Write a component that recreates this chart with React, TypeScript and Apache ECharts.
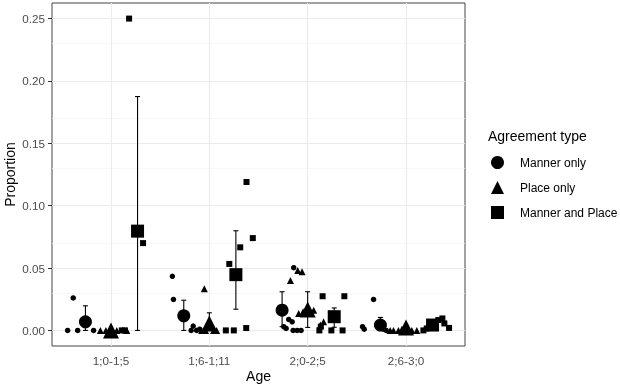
import React, { useEffect, useRef } from "react";
import * as echarts from "echarts";

const ageGroups = ["1;0-1;5", "1;6-1;11", "2;0-2;5", "2;6-3;0"];
const typeNames = ["Manner only", "Place only", "Manner and Place"];
const yTicks = [0, 0.05, 0.1, 0.15, 0.2, 0.25];
const yMinorTicks = [0.025, 0.075, 0.125, 0.175, 0.225];

// individual (jittered) observations: x in category units, y proportion
const mannerPtsX = [0.559, 0.616, 0.661, 0.823, 1.624, 1.635, 1.815, 1.836, 1.871, 1.901, 2.858, 2.807, 2.842, 2.757, 2.781, 2.852, 2.893, 2.933, 3.67, 3.558, 3.575, 3.771, 3.799];
const mannerPtsY = [0, 0.026, 0, 0, 0.0434, 0.0248, 0, 0.0035, 0, 0.001, 0.0503, 0.0088, 0.0069, 0.003, 0.0016, 0, 0, 0, 0.0248, 0.003, 0.001, 0.001, 0];
const placePtsX = [0.892, 0.948, 1.059, 1.161, 1.949, 1.922, 1.962, 2.043, 2.074, 2.825, 2.899, 2.943, 2.909, 2.953, 3.061, 3.162, 3.129, 3.839, 3.873, 3.923, 3.958, 4.059, 4.11];
const placePtsY = [0, 0, 0, 0, 0.0335, 0, 0, 0, 0, 0.04, 0.048, 0.047, 0.0136, 0.015, 0.0162, 0.007, 0.0043, 0, 0, 0, 0.001, 0, 0];
const bothPtsX = [1.184, 1.326, 1.11, 1.141, 2.378, 2.442, 2.314, 2.203, 2.168, 2.249, 2.375, 3.152, 3.373, 3.119, 3.134, 3.241, 3.355, 4.177, 4.211, 4.329, 4.37, 4.39, 4.438];
const bothPtsY = [0.25, 0.07, 0, 0, 0.119, 0.074, 0.0666, 0.0533, 0, 0, 0.0019, 0.0274, 0.0274, 0, 0.003, 0, 0, 0, 0.0016, 0.0083, 0.0096, 0.0056, 0.002];

// group means with error bar bounds
const mannerMean = [0.0069, 0.0117, 0.0162, 0.0043];
const mannerLow = [0, 0, 0.003, 0];
const mannerHigh = [0.0197, 0.0242, 0.031, 0.0104];
const placeMean = [0, 0.0056, 0.0167, 0.0024];
const placeLow = [0, 0, 0.0024, 0];
const placeHigh = [0, 0.0141, 0.031, 0.004];
const bothMean = [0.0796, 0.0447, 0.011, 0.0043];
const bothLow = [0, 0.017, 0.0025, 0.001];
const bothHigh = [0.1875, 0.0799, 0.018, 0.008];

const dodge = [-0.26, 0, 0.27];
const FONT = "'Liberation Sans', Arial, Helvetica, sans-serif";

export default function App() {
  const ref = useRef<HTMLDivElement>(null);
  useEffect(() => {
    if (!ref.current) return;
    const chart = echarts.init(ref.current, undefined, { renderer: "svg" });

    const pts = (xs: number[], ys: number[]) => xs.map((x, i) => [x, ys[i]]);
    const means = (m: number[], k: number) => m.map((v, i) => [i + 1 + dodge[k], v]);
    const bars = (lo: number[], hi: number[], k: number) =>
      lo.map((l, i) => [i + 1 + dodge[k], l, hi[i]]);

    const symbols = ["circle", "triangle", "rect"];
    const smallSizes = [5.5, 7, 6];
    const bigSizes = [13, 16, 13];
    const ptsData = [pts(mannerPtsX, mannerPtsY), pts(placePtsX, placePtsY), pts(bothPtsX, bothPtsY)];
    const meanData = [means(mannerMean, 0), means(placeMean, 1), means(bothMean, 2)];
    const barData = [bars(mannerLow, mannerHigh, 0), bars(placeLow, placeHigh, 1), bars(bothLow, bothHigh, 2)];

    const gridLines: any[] = [];
    yTicks.forEach((v) => gridLines.push({ yAxis: v, lineStyle: { color: "#ebebeb", width: 1.1, type: "solid" } }));
    yMinorTicks.forEach((v) => gridLines.push({ yAxis: v, lineStyle: { color: "#f3f3f3", width: 0.7, type: "solid" } }));
    ageGroups.forEach((_, i) => gridLines.push({ xAxis: i + 1, lineStyle: { color: "#ebebeb", width: 1.1, type: "solid" } }));

    const series: any[] = [
      {
        name: "grid",
        type: "scatter",
        data: [],
        silent: true,
        z: 1,
        markLine: {
          silent: true,
          symbol: "none",
          z: 1,
          animation: false,
          label: { show: false },
          data: gridLines,
        },
      },
    ];
    for (let k = 0; k < 3; k++) {
      series.push({
        name: typeNames[k] + " (obs)",
        type: "scatter",
        symbol: symbols[k],
        symbolSize: smallSizes[k],
        itemStyle: { color: "#000", opacity: 1 },
        data: ptsData[k],
        z: 3,
      });
    }
    for (let k = 0; k < 3; k++) {
      series.push({
        name: typeNames[k] + " (se)",
        type: "custom",
        data: barData[k],
        encode: { x: 0, y: [1, 2] },
        z: 4,
        renderItem: (params: any, api: any) => {
          const x = api.value(0);
          const lo = api.coord([x, api.value(1)]);
          const hi = api.coord([x, api.value(2)]);
          const cap = 2.5;
          const style = { stroke: "#000", lineWidth: 1.1 };
          return {
            type: "group",
            children: [
              { type: "line", shape: { x1: lo[0], y1: lo[1], x2: hi[0], y2: hi[1] }, style },
              { type: "line", shape: { x1: hi[0] - cap, y1: hi[1], x2: hi[0] + cap, y2: hi[1] }, style },
              { type: "line", shape: { x1: lo[0] - cap, y1: lo[1], x2: lo[0] + cap, y2: lo[1] }, style },
            ],
          };
        },
      });
    }
    for (let k = 0; k < 3; k++) {
      series.push({
        name: typeNames[k],
        type: "scatter",
        symbol: symbols[k],
        symbolSize: bigSizes[k],
        itemStyle: { color: "#000", opacity: 1 },
        data: meanData[k],
        z: 5,
      });
    }

    chart.setOption({
      animation: false,
      textStyle: { fontFamily: FONT },
      grid: {
        left: 52,
        right: 155,
        top: 3,
        bottom: 42,
        outerBoundsMode: "none",
        containLabel: false,
        show: true,
        backgroundColor: "#fff",
        borderColor: "#444",
        borderWidth: 1,
      },
      title: {
        text: "Agreement type",
        left: 483,
        top: 124,
        textStyle: { fontFamily: FONT, fontSize: 14, fontWeight: "normal", color: "#000" },
      },
      legend: {
        data: typeNames.map((n, k) => ({ name: n, icon: symbols[k] })),
        orient: "vertical",
        left: 486,
        top: 151,
        itemWidth: 13,
        itemHeight: 13,
        itemGap: 12,
        selectedMode: false,
        itemStyle: { color: "#000", opacity: 1 },
        textStyle: { fontFamily: FONT, fontSize: 12, color: "#000", padding: [0, 0, 0, 11] },
      },
      xAxis: {
        type: "value",
        min: 0.4,
        max: 4.6,
        name: "Age",
        nameLocation: "middle",
        nameGap: 23,
        nameMoveOverlap: false,
        nameTextStyle: { fontFamily: FONT, fontSize: 14, color: "#000" },
        axisLine: { show: false },
        axisTick: { show: true, length: 4, lineStyle: { color: "#333" }, customValues: [1, 2, 3, 4] },
        axisLabel: {
          customValues: [1, 2, 3, 4],
          formatter: (v: number) => ageGroups[Math.round(v) - 1] || "",
          fontFamily: FONT,
          fontSize: 11.7,
          color: "#4d4d4d",
          margin: 8,
        },
        splitLine: { show: false },
      },
      yAxis: {
        type: "value",
        min: -0.0125,
        max: 0.2625,
        name: "Proportion",
        nameLocation: "middle",
        nameGap: 35,
        nameMoveOverlap: false,
        nameRotate: 90,
        nameTextStyle: { fontFamily: FONT, fontSize: 14, color: "#000" },
        axisLine: { show: false },
        axisTick: { show: true, length: 4, lineStyle: { color: "#333" }, customValues: yTicks },
        axisLabel: {
          customValues: yTicks,
          formatter: (v: number) => v.toFixed(2),
          fontFamily: FONT,
          fontSize: 11.7,
          color: "#4d4d4d",
          margin: 7,
        },
        splitLine: { show: false },
      },
      series,
    });
    return () => chart.dispose();
  }, []);
  return <div ref={ref} style={{ position: "fixed", left: 0, top: 0, width: 620, height: 388 }} />;
}
